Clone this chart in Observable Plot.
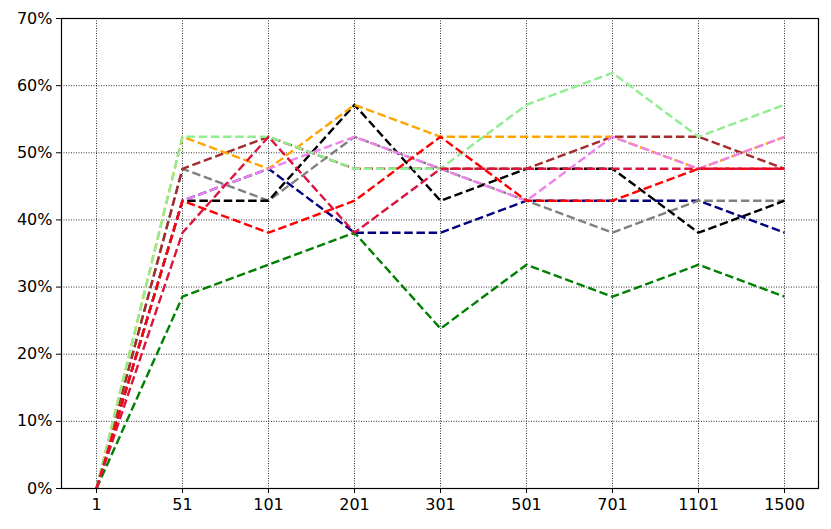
<!DOCTYPE html>
<html>
<head>
<meta charset="utf-8">
<script src="https://cdn.jsdelivr.net/npm/d3@7"></script>
<script src="https://cdn.jsdelivr.net/npm/@observablehq/plot@0.6"></script>
<style>
  html, body { margin: 0; padding: 0; background: white; }
</style>
</head>
<body>
<div id="chart"></div>
<script>
const xLabels = ["1", "51", "101", "201", "301", "501", "701", "1101", "1500"];
const yTicks = [0, 0.1, 0.2, 0.3, 0.4, 0.5, 0.6, 0.7];

const seriesNames = ["green", "navy", "gray", "black", "brown", "orange", "violet", "lightgreen", "red", "crimson"];

const greenVals      = [0, 0.2857, 0.3333, 0.3810, 0.2381, 0.3333, 0.2857, 0.3333, 0.2857];
const navyVals       = [0, 0.4286, 0.4762, 0.3810, 0.3810, 0.4286, 0.4286, 0.4286, 0.3810];
const grayVals       = [0, 0.4762, 0.4286, 0.5238, 0.4762, 0.4286, 0.3810, 0.4286, 0.4286];
const blackVals      = [0, 0.4286, 0.4286, 0.5714, 0.4286, 0.4762, 0.4762, 0.3810, 0.4286];
const brownVals      = [0, 0.4762, 0.5238, 0.4762, 0.4762, 0.4762, 0.5238, 0.5238, 0.4762];
const orangeVals     = [0, 0.5238, 0.4762, 0.5714, 0.5238, 0.5238, 0.5238, 0.4762, 0.5238];
const violetVals     = [0, 0.4286, 0.4762, 0.5238, 0.4762, 0.4286, 0.5238, 0.4762, 0.5238];
const lightgreenVals = [0, 0.5238, 0.5238, 0.4762, 0.4762, 0.5714, 0.6190, 0.5238, 0.5714];
const redVals        = [0, 0.4286, 0.3810, 0.4286, 0.5238, 0.4286, 0.4286, 0.4762, 0.4762];
const crimsonVals    = [0, 0.3810, 0.5238, 0.3810, 0.4762, 0.4762, 0.4762, 0.4762, 0.4762];

const valueSets = [greenVals, navyVals, grayVals, blackVals, brownVals, orangeVals, violetVals, lightgreenVals, redVals, crimsonVals];

const rows = [];
seriesNames.forEach((name, si) => {
  valueSets[si].forEach((v, i) => rows.push({series: name, x: xLabels[i], y: v}));
});

const chart = Plot.plot({
  width: 831,
  height: 529,
  marginLeft: 61,
  marginRight: 13,
  marginTop: 18,
  marginBottom: 41,
  style: {fontFamily: "DejaVu Sans", fontSize: "16px", background: "white", color: "black"},
  x: {type: "point", domain: xLabels, padding: 0.4, label: null},
  y: {domain: [0, 0.7], label: null},
  color: {type: "identity"},
  marks: [
    Plot.gridX({stroke: "black", strokeOpacity: 0.9, strokeWidth: 0.9, strokeDasharray: "1,1.5"}),
    Plot.gridY(yTicks, {stroke: "black", strokeOpacity: 0.9, strokeWidth: 0.9, strokeDasharray: "1,1.5"}),
    Plot.line(rows, {x: "x", y: "y", z: "series", stroke: "series", strokeWidth: 2.4, strokeDasharray: "8.5,3.7", strokeLinejoin: "round", strokeLinecap: "butt"}),
    Plot.frame({stroke: "black", strokeWidth: 1.2}),
    Plot.axisX({tickSize: 5, tickPadding: 5, label: null, fontSize: 16}),
    Plot.axisY(yTicks, {tickSize: 5, tickPadding: 4, tickFormat: d3.format(".0%"), label: null, fontSize: 16})
  ]
});
document.getElementById("chart").appendChild(chart);
</script>
</body>
</html>
